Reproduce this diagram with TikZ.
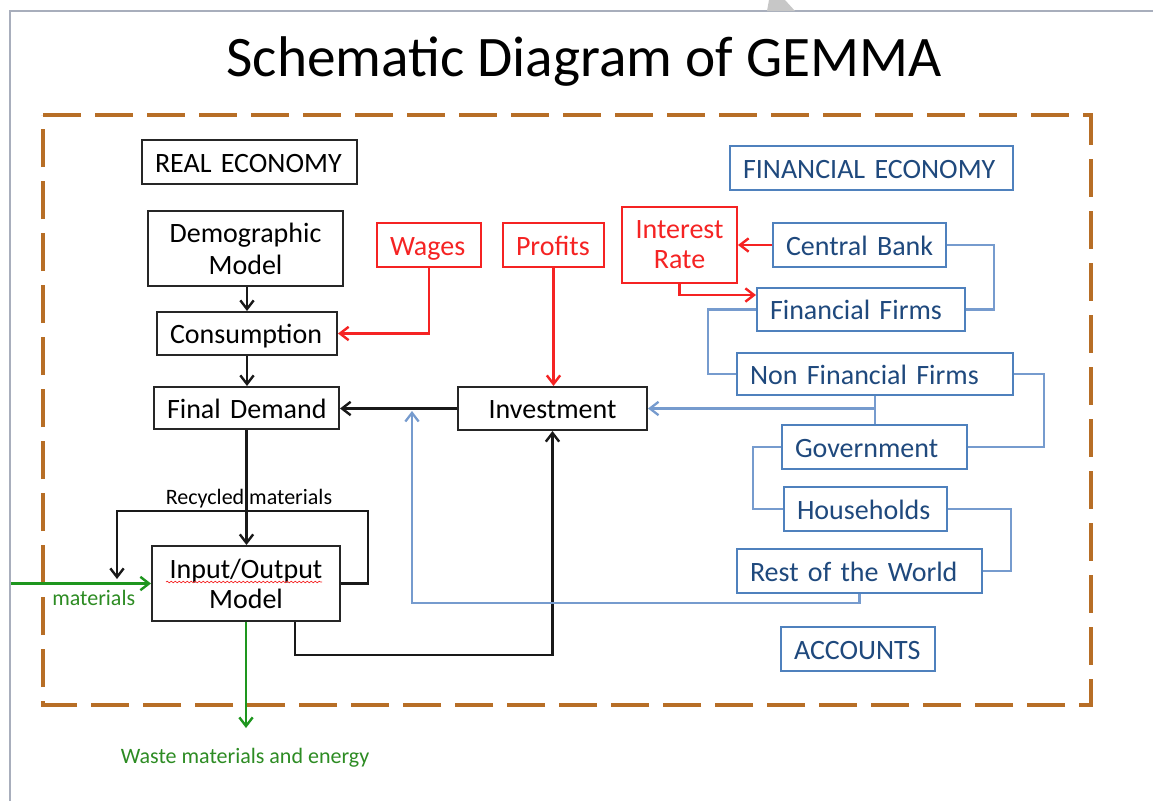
\documentclass[tikz,border=0pt]{standalone}
\usepackage{fontspec}
\setmainfont{Carlito}
\usetikzlibrary{arrows.meta,calc,decorations.pathmorphing}

\definecolor{framec}{RGB}{183,110,38}
\definecolor{bluebox}{RGB}{79,129,189}
\definecolor{bluetext}{RGB}{31,73,125}
\definecolor{blueline}{RGB}{118,155,206}
\definecolor{redc}{RGB}{245,35,35}
\definecolor{greenc}{RGB}{30,150,30}
\definecolor{greentext}{RGB}{45,140,35}
\definecolor{pageline}{RGB}{168,174,188}

% box from corner (x1,y1) to (x2,y2), text padded 13 units on each side
% #1 name, #2..#5 corners, #6 style, #7 text
\newcommand\gbox[7]{%
  \node[#6, minimum width={(#4-#2)*0.75pt}, minimum height={(#5-#3)*0.75pt},
        inner xsep=9.75pt, inner ysep=0pt, text width={(#4-#2-26)*0.75pt}]
        (#1) at ({(#2+#4)/2},{(#3+#5)/2}) {#7};}

\begin{document}
\begin{tikzpicture}[x=0.75pt,y=-0.75pt,
  mainfont/.style={font=\fontsize{21}{24}\selectfont},
  smallfont/.style={font=\fontsize{16.5}{18}\selectfont},
  oneline/.style={text height=15.5pt, text depth=0pt},
  twoline/.style={font=\fontsize{21}{22.5}\selectfont, align=center},
  realbox/.style={draw=black!85, line width=1.5pt, text=black, mainfont},
  finbox/.style={draw=bluebox, line width=1.5pt, text=bluetext, mainfont, oneline, align=left},
  redbox/.style={draw=redc, line width=1.5pt, text=redc, mainfont},
  barb/.style={-{Straight Barb[length=6.5pt,width=10pt]}},
  blk/.style={draw=black!90, line width=1.8pt},
  redl/.style={draw=redc, line width=1.8pt},
  bluel/.style={draw=blueline, line width=1.7pt},
  greenl/.style={draw=greenc, line width=1.8pt},
]
\useasboundingbox (0,0) rectangle (1153,801);
\fill[white] (0,0) rectangle (1153,801);

% page edges
\draw[pageline, line width=1.2pt] (10,801) -- (10,11) -- (1153,11);
\fill[black!22] (769,0) -- (785,0) -- (795,11) -- (767,11) -- cycle;

% title
\node[font=\fontsize{43}{48}\selectfont, anchor=base, inner sep=0pt] (title) at (584,76) {Schematic Diagram of GEMMA};

% dashed model boundary
\draw[framec, line width=3pt, dash pattern=on 28.5pt off 10.5pt]
  (43,115) -- (1091,115) -- (1091,705) -- (43,705) -- cycle;

% real economy
\gbox{realec}{142}{140}{357}{184}{realbox, oneline, align=left}{\mbox{REAL ECONOMY}}
\gbox{dem}{148}{211}{343}{286}{realbox, align=center, font=\fontsize{21}{24}\selectfont}{Demographic\hspace*{9pt}\\Model}
\gbox{cons}{157}{312}{337}{355}{realbox, oneline, align=left}{\mbox{Consumption}}
\gbox{fd}{154}{387}{339}{429}{realbox, oneline, align=left}{\mbox{Final Demand}}
\gbox{inv}{458}{387}{647}{430}{realbox, oneline, align=center}{\mbox{Investment}}
\gbox{io}{152}{546}{340}{621}{realbox, twoline}{Input/Output\\Model}

% income flows
\gbox{wages}{377}{223}{481}{267}{redbox, oneline, align=left}{\mbox{Wages}}
\gbox{profits}{503}{223}{604}{267}{redbox, oneline, align=left}{\mbox{Profits}}
\gbox{ir}{622}{207}{737}{283}{redbox, twoline}{Interest\\Rate}

% financial economy
\gbox{finec}{730}{146}{1013}{190}{finbox}{\mbox{FINANCIAL ECONOMY}}
\gbox{cb}{773}{223}{946}{267}{finbox}{\mbox{Central Bank}}
\gbox{ff}{757}{288}{965}{331}{finbox}{\mbox{Financial Firms}}
\gbox{nff}{737}{353}{1013}{395}{finbox}{\mbox{Non Financial Firms}}
\gbox{gov}{782}{425}{967}{469}{finbox}{\mbox{Government}}
\gbox{hh}{784}{487}{947}{531}{finbox}{\mbox{Households}}
\gbox{row}{737}{549}{982}{593}{finbox}{\mbox{Rest of the World}}
\gbox{acc}{781}{627}{935}{671}{finbox}{\mbox{ACCOUNTS}}

% spelling squiggle under Input/Output
\draw[redc, line width=0.5pt, decorate, decoration={snake, amplitude=0.6pt, segment length=3pt}]
  (166,582) -- (322,582);

% labels
\node[smallfont, anchor=base, inner sep=0pt] (reclab) at (249,504) {Recycled materials};
\node[smallfont, text=greentext, anchor=base west, inner sep=0pt] (matlab) at (52,605) {materials};
\node[smallfont, text=greentext, anchor=base, inner sep=0pt] (wastelab) at (245,763) {Waste materials and energy};

% free ends
\coordinate (rcA) at (368,511);
\coordinate (rcB) at (117,511);
\coordinate (rcend) at (117,579);
\coordinate (matin) at (11,583.5);
\coordinate (wend) at (246,728);
\coordinate (bluetip) at (412,411);

% real economy flows
\draw[blk, barb] (dem.south -| cons.north) -- (cons.north);
\draw[blk, barb] (cons.south) -- (cons.south |- fd.north);
\draw[blk, barb] (fd.south) -- (fd.south |- io.north);
\draw[blk, barb] (inv.west) -- (inv.west -| fd.east);
\draw[blk, barb] (io.east) -| (rcA) -- (rcB) -- (rcend);
\draw[blk, barb] ($(io.south)+(49,0)$) -- ++(0,33) -| (inv.south);

% material flows
\draw[greenl, barb] (matin) -- (io.west);
\draw[greenl, barb] (io.south) -- (wend);

% income flows
\draw[redl, barb] (wages.south) |- (cons.east);
\draw[redl, barb] (profits.south) -- (profits.south |- inv.north);
\draw[redl, barb] (cb.west) -- (cb.west -| ir.east);
\draw[redl, barb] (ir.south) |- ($(ff.west)+(0,-14.5)$);

% accounts links
\draw[bluel] (cb.east) -- ++(47,0) |- (ff.east);
\draw[bluel] (ff.west) -- ++(-48,0) |- (nff.west);
\draw[bluel] (nff.east) -- ++(30,0) |- (gov.east);
\draw[bluel] (gov.west) -- ++(-28,0) |- (hh.west);
\draw[bluel] (hh.east) -- ++(63,0) |- (row.east);
\draw[bluel] (nff.south) -- (nff.south |- gov.north);
\draw[bluel, barb] (nff.south |- inv.east) -- (inv.east);
\draw[bluel, barb] (row.south) -- ++(0,9) -| (bluetip);
\end{tikzpicture}
\end{document}
